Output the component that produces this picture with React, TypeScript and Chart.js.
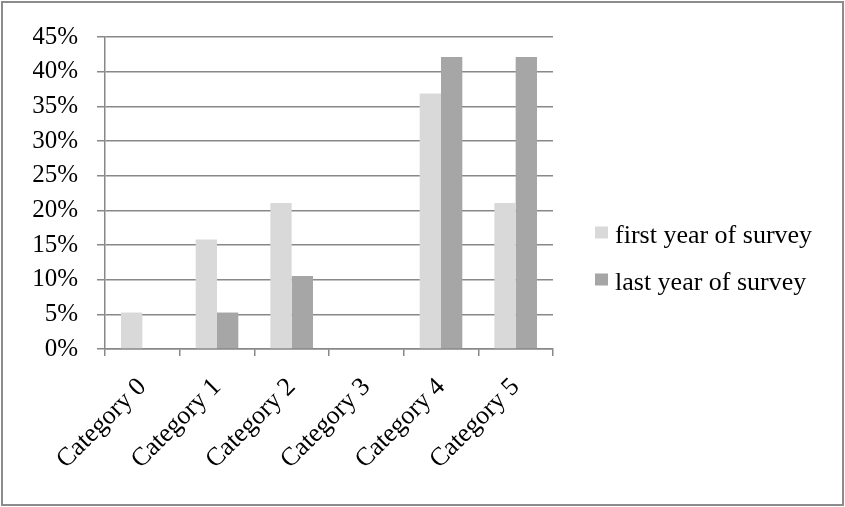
import React, { useEffect, useRef } from "react";
import { Chart, registerables } from "chart.js";

Chart.register(...registerables);

const categories = ["Category 0", "Category 1", "Category 2", "Category 3", "Category 4", "Category 5"];
const firstYear = [5.26, 15.79, 21.05, 0, 36.84, 21.05];
const lastYear = [0, 5.26, 10.53, 0, 42.11, 42.11];
const seriesNames = ["first year of survey", "last year of survey"];
const seriesColors = ["#d9d9d9", "#a6a6a6"];

const FONT = "'Liberation Serif', 'Times New Roman', serif";
const GRID = "#888888";

const legendPlugin = {
  id: "customLegend",
  afterDraw(chart: any) {
    const ctx = chart.ctx;
    const area = chart.chartArea;
    const h = chart.height;
    ctx.save();
    ctx.font = `26px ${FONT}`;
    ctx.textAlign = "left";
    ctx.textBaseline = "alphabetic";
    chart.data.datasets.forEach((ds: any, i: number) => {
      const bx = area.right + 42;
      const by = h / 2 - 27 + i * 47;
      ctx.fillStyle = ds.backgroundColor;
      ctx.fillRect(bx, by, 13, 12);
      ctx.fillStyle = "#000";
      ctx.fillText(ds.label, bx + 20, by + 16);
    });
    ctx.restore();
  },
};

export default function App() {
  const ref = useRef<HTMLCanvasElement | null>(null);
  useEffect(() => {
    if (!ref.current) return;
    const chart = new Chart(ref.current, {
      type: "bar",
      data: {
        labels: categories,
        datasets: [
          { label: seriesNames[0], data: firstYear, backgroundColor: seriesColors[0], borderWidth: 0 },
          { label: seriesNames[1], data: lastYear, backgroundColor: seriesColors[1], borderWidth: 0 },
        ],
      },
      options: {
        responsive: false,
        animation: false,
        devicePixelRatio: 1,
        layout: { padding: { left: 30, right: 289, top: 29, bottom: 0 } },
        datasets: { bar: { categoryPercentage: 0.571, barPercentage: 1 } },
        plugins: { legend: { display: false }, tooltip: { enabled: false } },
        scales: {
          x: {
            offset: true,
            grid: { offset: true, drawOnChartArea: false, color: GRID, lineWidth: 1.5, tickLength: 7, tickColor: GRID },
            border: { color: GRID, width: 1.5 },
            ticks: { color: "#000", font: { family: FONT, size: 26 }, maxRotation: 45, minRotation: 45, padding: 16 },
            afterFit: (s: any) => { s.height = 155; },
          },
          y: {
            min: 0,
            max: 45,
            grid: { color: GRID, lineWidth: 1.5, tickLength: 8, tickColor: GRID },
            border: { color: GRID, width: 1.5 },
            ticks: {
              stepSize: 5,
              color: "#000",
              font: { family: FONT, size: 25 },
              padding: 19,
              callback: (v: any) => `${v}%`,
            },
            afterFit: (s: any) => { s.width = 72; },
          },
        },
      },
      plugins: [legendPlugin],
    });
    return () => chart.destroy();
  }, []);
  return (
    <div
      style={{
        position: "absolute",
        left: 1,
        top: 1,
        width: 843,
        height: 505,
        boxSizing: "border-box",
        border: "2px solid #8c8c8c",
        background: "#fff",
      }}
    >
      <canvas ref={ref} width={839} height={501} style={{ display: "block" }} />
    </div>
  );
}
